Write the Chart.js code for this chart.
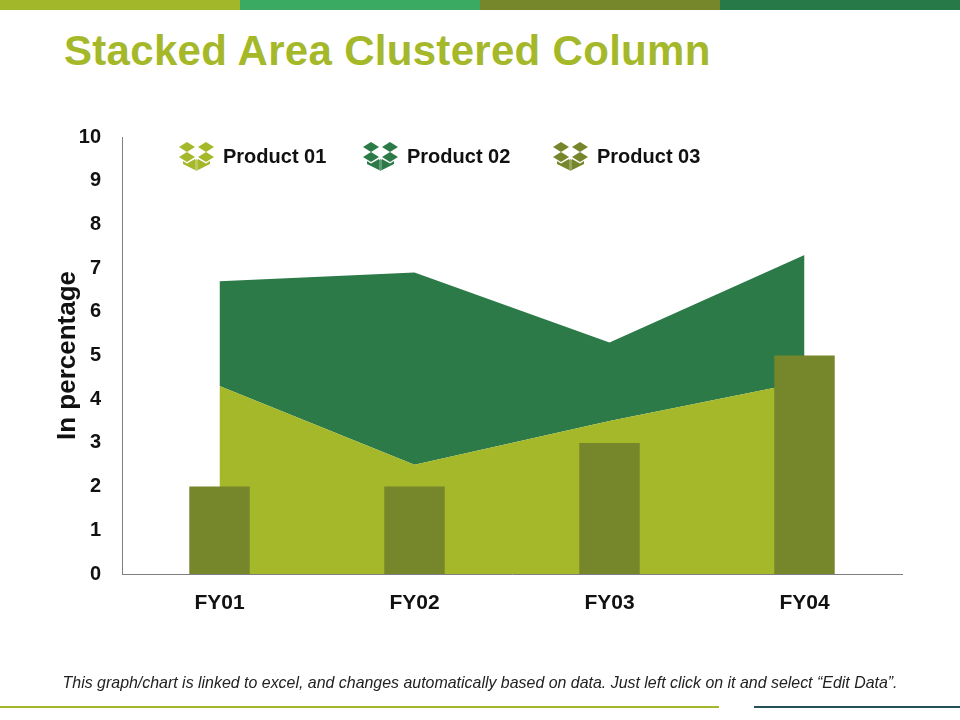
<!DOCTYPE html>
<html>
<head>
<meta charset="utf-8">
<script src="https://cdn.jsdelivr.net/npm/chart.js@4.4.1/dist/chart.umd.min.js"></script>
<style>
  html, body { margin: 0; padding: 0; background: #fff; }
  #page { position: relative; width: 960px; height: 720px; overflow: hidden; font-family: "Liberation Sans", Arial, sans-serif; }
  .topbar { position: absolute; top: 0; height: 10px; width: 240px; }
  #title { position: absolute; left: 64px; top: 30px; font-size: 42px; line-height: 42px; font-weight: bold; color: #a4b82a; white-space: nowrap; letter-spacing: 0.3px; }
  #chartBox { position: absolute; left: 0; top: 0; width: 960px; height: 720px; }
  #legend { position: absolute; top: 140px; left: 0; height: 32px; }
  .item { position: absolute; top: 0; height: 32px; display: flex; align-items: center; font-size: 20px; font-weight: bold; color: #111; white-space: nowrap; }
  .item svg { margin-right: 8px; }
  #footer { position: absolute; left: 0; width: 960px; top: 673px; text-align: center; font-size: 17px; line-height: 20px; font-style: italic; color: #222; white-space: nowrap; transform: scaleX(0.937); transform-origin: 481px 0; }
  .rule { position: absolute; top: 706px; height: 2px; }
</style>
</head>
<body>
<div id="page">
  <div class="topbar" style="left:0;background:#a3b72b"></div>
  <div class="topbar" style="left:240px;background:#3aa962"></div>
  <div class="topbar" style="left:480px;background:#76862a"></div>
  <div class="topbar" style="left:720px;background:#277a48"></div>
  <div id="title">Stacked Area Clustered Column</div>
  <div id="chartBox"><canvas id="chart"></canvas></div>
  <div id="legend"></div>
  <div id="footer">This graph/chart is linked to excel, and changes automatically based on data. Just left click on it and select “Edit Data”.</div>
  <div class="rule" style="left:0;width:719px;background:#a4b82a"></div>
  <div class="rule" style="left:754px;width:206px;background:#24505c"></div>
</div>
<script>
const categories = ['FY01', 'FY02', 'FY03', 'FY04'];
const product01 = [4.3, 2.5, 3.5, 4.4];
const product02 = [2.4, 4.4, 1.8, 2.9];
const product03 = [2, 2, 3, 5];
const seriesNames = ['Product 01', 'Product 02', 'Product 03'];
const seriesColors = ['#a4b82a', '#2c7a48', '#76862a'];
const legendX = [178, 362, 552];

// open box icon used in the legend
function boxIcon(color) {
  return '<svg width="37" height="30" viewBox="0 0 37 30">' +
    '<g fill="' + color + '">' +
    '<polygon points="1,6 9,1 17,6 9,11"/>' +
    '<polygon points="20,6 28,1 36,6 28,11"/>' +
    '<polygon points="1,16 9,11 17,16 9,21"/>' +
    '<polygon points="20,16 28,11 36,16 28,21"/>' +
    '<polygon points="5,20 9,22.5 17,18 17,29 5,23"/>' +
    '<polygon points="20,18 28,22.5 32,20 32,23 20,29"/>' +
    '<polygon points="17,19 18.5,18 20,19 20,29 18.5,30 17,29" opacity="0.75"/>' +
    '</g></svg>';
}

const legend = document.getElementById('legend');
seriesNames.forEach((name, i) => {
  const el = document.createElement('div');
  el.className = 'item';
  el.style.left = legendX[i] + 'px';
  el.innerHTML = boxIcon(seriesColors[i]) + '<span>' + name + '</span>';
  legend.appendChild(el);
});

const ctx = document.getElementById('chart').getContext('2d');
new Chart(ctx, {
  type: 'bar',
  data: {
    labels: categories,
    datasets: [
      {
        type: 'line',
        label: seriesNames[0],
        data: product01,
        stack: 'area',
        fill: 'origin',
        backgroundColor: seriesColors[0],
        borderWidth: 0,
        pointRadius: 0,
        tension: 0,
        order: 1
      },
      {
        type: 'line',
        label: seriesNames[1],
        data: product02,
        stack: 'area',
        fill: '-1',
        backgroundColor: seriesColors[1],
        borderWidth: 0,
        pointRadius: 0,
        tension: 0,
        order: 1
      },
      {
        type: 'bar',
        label: seriesNames[2],
        data: product03,
        stack: 'col',
        backgroundColor: seriesColors[2],
        categoryPercentage: 1,
        barPercentage: 0.31,
        order: 0
      }
    ]
  },
  options: {
    responsive: true,
    maintainAspectRatio: false,
    animation: false,
    layout: { padding: { left: 36, top: 137, right: 58, bottom: 86 } },
    plugins: {
      legend: { display: false },
      tooltip: { enabled: false }
    },
    scales: {
      x: {
        stacked: true,
        offset: true,
        grid: { display: false, drawTicks: false },
        border: { color: '#7f7f7f', width: 1 },
        ticks: { color: '#111', padding: 17, font: { family: 'Liberation Sans', size: 21, weight: 'bold' } },
        afterFit: (scale) => { scale.height = 60; }
      },
      y: {
        stacked: true,
        min: 0,
        max: 10,
        grid: { display: false, drawTicks: false },
        border: { color: '#7f7f7f', width: 1 },
        ticks: { stepSize: 1, color: '#111', padding: 21, font: { family: 'Liberation Sans', size: 20, weight: 'bold' } },
        title: {
          display: true,
          text: 'In percentage',
          color: '#111',
          padding: { top: 16, bottom: 0 },
          font: { family: 'Liberation Sans', size: 26, weight: 'bold' }
        },
        afterFit: (scale) => { scale.width = 86; }
      }
    }
  }
});
</script>
</body>
</html>
